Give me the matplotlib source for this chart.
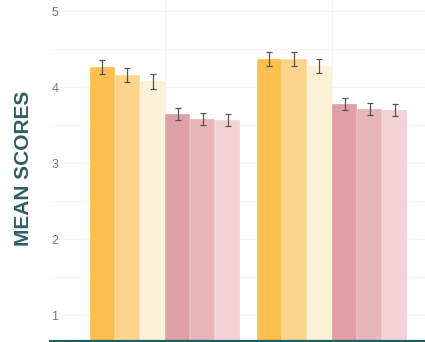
import matplotlib
matplotlib.use("Agg")
import matplotlib.pyplot as plt
import numpy as np

plt.rcParams["font.family"] = ["Liberation Sans", "DejaVu Sans"]

# two groups, six bars each
groups = ["Group A", "Group B"]
series = ["S1", "S2", "S3", "S4", "S5", "S6"]
means = [
    [4.27, 4.37],
    [4.16, 4.37],
    [4.08, 4.28],
    [3.65, 3.78],
    [3.58, 3.72],
    [3.57, 3.70],
]
errs = [
    [0.09, 0.09],
    [0.09, 0.09],
    [0.10, 0.09],
    [0.08, 0.08],
    [0.08, 0.08],
    [0.08, 0.08],
]
colors = ["#FCC050", "#FCD48B", "#FDF1D8", "#DFA0A5", "#E8B6B8", "#F2D2D6"]

fig = plt.figure(figsize=(4.25, 3.42), dpi=100)
ax = fig.add_axes([50 / 425, 1 / 342, 375 / 425, 341 / 342])

x = np.arange(len(groups))
w = 0.15
for i, name in enumerate(series):
    pos = x + (i - 2.5) * w
    ax.bar(pos, means[i], width=w, color=colors[i], edgecolor="#ffffff",
           linewidth=0.2, zorder=2, label=name)
    ax.errorbar(pos, means[i], yerr=errs[i], fmt="none", ecolor="#555555",
                elinewidth=0.9, capsize=2.2, capthick=0.9, zorder=3)

ax.set_xlim(-0.689, 1.557)
ax.set_ylim(0.662, 5.149)
ax.set_yticks([1, 2, 3, 4, 5])
ax.set_yticks([1.5, 2.5, 3.5, 4.5], minor=True)
ax.set_xticks(x)
ax.set_xticklabels([])
ax.tick_params(axis="y", which="both", length=0, pad=-6, labelsize=9,
               labelcolor="#7a7a7a")
ax.tick_params(axis="x", length=0)
ax.grid(True, which="major", color="#f4f4f4", linewidth=0.8, zorder=0)
ax.grid(True, which="minor", axis="y", color="#f7f7f7", linewidth=0.8, zorder=0)
ax.set_axisbelow(True)

for s in ["top", "right", "left"]:
    ax.spines[s].set_visible(False)
ax.spines["bottom"].set_color("#1F5F5F")
ax.spines["bottom"].set_linewidth(1.6)

fig.text(24 / 425, 1 - 168 / 342, "MEAN SCORES", rotation=90, ha="center",
         va="center", fontsize=15, fontweight="bold", color="#2F5F63")

fig.savefig("out.png", dpi=100)
